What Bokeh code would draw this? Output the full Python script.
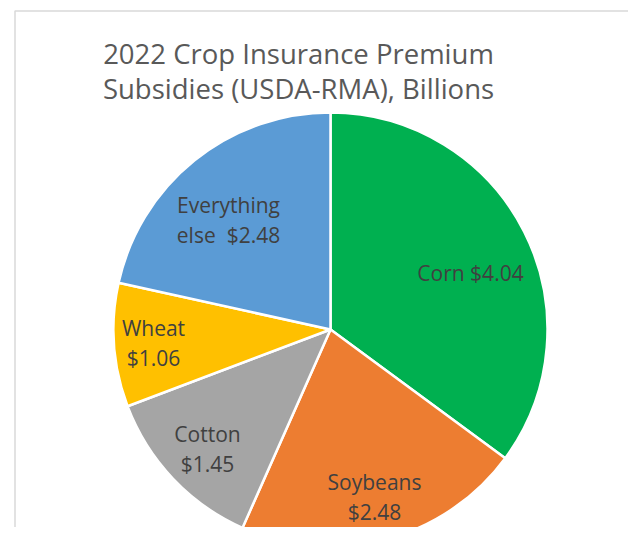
import math
from bokeh.plotting import figure
from bokeh.models import Range1d, ColumnDataSource
from bokeh.core.properties import value
from bokeh.embed import file_html
from bokeh.resources import INLINE

# ---- data ----
categories = ["Corn", "Soybeans", "Cotton", "Wheat", "Everything else"]
subsidies = [4.04, 2.48, 1.45, 1.06, 2.48]
colors = ["#00B050", "#ED7D31", "#A5A5A5", "#FFC000", "#5B9BD5"]
label_lines = [
    ["Corn $4.04"],
    ["Soybeans", "$2.48"],
    ["Cotton", "$1.45"],
    ["Wheat", "$1.06"],
    ["Everything", "else\u00a0 $2.48"],
]
title_lines = ["2022 Crop Insurance Premium", "Subsidies (USDA-RMA), Billions"]

# ---- layout (image pixel coordinates) ----
W, H = 628, 527
X0, Y0 = 0, 0
CX, CY, R = 330, 329, 217
label_pos = [(470, 272), (374, 481), (207, 433), (153, 327), (228, 204)]
LINE_GAP = 30
FONT = "Open Sans"

total = sum(subsidies)
starts, ends = [], []
cum = 0.0
for v in subsidies:
    a0 = math.pi / 2 - 2 * math.pi * (cum + v) / total
    a1 = math.pi / 2 - 2 * math.pi * cum / total
    starts.append(a0)
    ends.append(a1)
    cum += v

src = ColumnDataSource(dict(cat=categories, val=subsidies, color=colors,
                            start=starts, end=ends))

p = figure(width=W, height=H, output_backend="svg", toolbar_location=None,
           x_range=Range1d(X0, X0 + W), y_range=Range1d(-(Y0 + H), -Y0),
           min_border=0, outline_line_color=None)
p.axis.visible = False
p.grid.visible = False
p.background_fill_color = "white"
p.border_fill_color = "white"

# chart border
p.quad(left=[14.5], right=[641.5], top=[-10.5], bottom=[-600],
       fill_color=None, line_color="#D9D9D9", line_width=1.5)

p.wedge(x=CX, y=-CY, radius=R, start_angle="start", end_angle="end",
        fill_color="color", line_color="white", line_width=2.5, source=src)

# labels
tx, ty, tt = [], [], []
for lines, (lx, ly) in zip(label_lines, label_pos):
    for i, s in enumerate(lines):
        tx.append(lx)
        ty.append(-(ly + i * LINE_GAP))
        tt.append(s)
p.text(x=tx, y=ty, text=tt, text_font=value(FONT), text_font_size="21px",
       text_color="#404040", text_align="center", text_baseline="middle")

# title
p.text(x=[298, 298], y=[-53, -88], text=title_lines, text_font=value(FONT),
       text_font_size="27.5px", text_color="#595959", text_align="center",
       text_baseline="middle")

open("out.html", "w").write(file_html(p, INLINE))
